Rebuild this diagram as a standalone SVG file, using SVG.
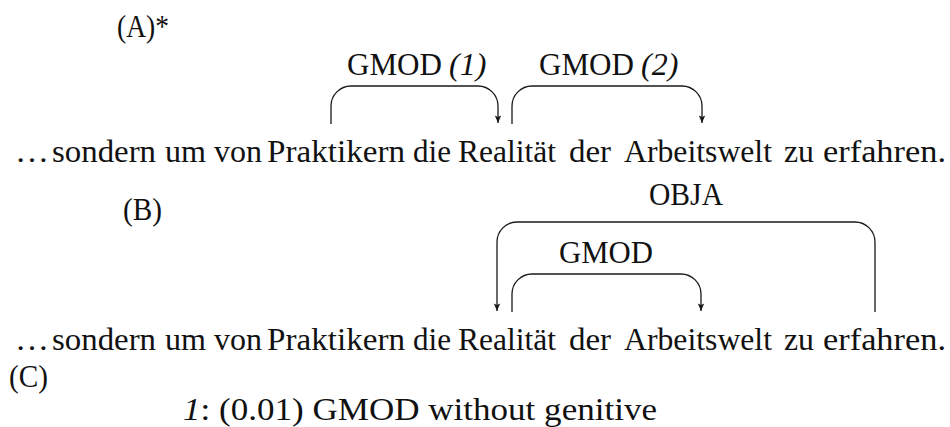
<svg xmlns="http://www.w3.org/2000/svg" width="950" height="427" viewBox="0 0 950 427">
<style>
text{font-family:"Liberation Serif","Times New Roman",serif;font-size:32px;fill:#111}
.it{font-style:italic}
.edge{fill:none;stroke:#1a1a1a;stroke-width:1.3}
</style>
<defs>
<marker id="ah" markerUnits="userSpaceOnUse" markerWidth="10" markerHeight="10" viewBox="-8 -4 10 8" refX="0" refY="0" orient="auto">
<path d="M-7.5,-3.2 L0,0 L-7.5,3.2 L-6,0 z" fill="#1a1a1a"/>
</marker>
</defs>
<rect width="950" height="427" fill="#fff"/>

<g id="tag-A"><text x="117" y="37" textLength="52" lengthAdjust="spacingAndGlyphs">(A)*</text></g>
<g id="tag-B"><text x="123" y="220" textLength="39" lengthAdjust="spacingAndGlyphs">(B)</text></g>
<g id="tag-C"><text x="9" y="387" textLength="39" lengthAdjust="spacingAndGlyphs">(C)</text></g>

<g id="sentence-A">
<g id="a-w0"><text x="15" y="162" textLength="34" lengthAdjust="spacingAndGlyphs">…</text></g>
<g id="a-w1"><text x="52" y="162" textLength="104" lengthAdjust="spacingAndGlyphs">sondern</text></g>
<g id="a-w2"><text x="165" y="162" textLength="41" lengthAdjust="spacingAndGlyphs">um</text></g>
<g id="a-w3"><text x="214" y="162" textLength="48" lengthAdjust="spacingAndGlyphs">von</text></g>
<g id="a-w4"><text x="267" y="162" textLength="138" lengthAdjust="spacingAndGlyphs">Praktikern</text></g>
<g id="a-w5"><text x="413" y="162" textLength="38" lengthAdjust="spacingAndGlyphs">die</text></g>
<g id="a-w6"><text x="458" y="162" textLength="98" lengthAdjust="spacingAndGlyphs">Realität</text></g>
<g id="a-w7"><text x="569" y="162" textLength="42" lengthAdjust="spacingAndGlyphs">der</text></g>
<g id="a-w8"><text x="624" y="162" textLength="148" lengthAdjust="spacingAndGlyphs">Arbeitswelt</text></g>
<g id="a-w9"><text x="784" y="162" textLength="30" lengthAdjust="spacingAndGlyphs">zu</text></g>
<g id="a-w10"><text x="823" y="162" textLength="123" lengthAdjust="spacingAndGlyphs">erfahren.</text></g>
</g>

<g id="sentence-B">
<g id="b-w0"><text x="15" y="350" textLength="34" lengthAdjust="spacingAndGlyphs">…</text></g>
<g id="b-w1"><text x="52" y="350" textLength="104" lengthAdjust="spacingAndGlyphs">sondern</text></g>
<g id="b-w2"><text x="165" y="350" textLength="41" lengthAdjust="spacingAndGlyphs">um</text></g>
<g id="b-w3"><text x="214" y="350" textLength="48" lengthAdjust="spacingAndGlyphs">von</text></g>
<g id="b-w4"><text x="267" y="350" textLength="138" lengthAdjust="spacingAndGlyphs">Praktikern</text></g>
<g id="b-w5"><text x="413" y="350" textLength="38" lengthAdjust="spacingAndGlyphs">die</text></g>
<g id="b-w6"><text x="458" y="350" textLength="98" lengthAdjust="spacingAndGlyphs">Realität</text></g>
<g id="b-w7"><text x="569" y="350" textLength="42" lengthAdjust="spacingAndGlyphs">der</text></g>
<g id="b-w8"><text x="624" y="350" textLength="148" lengthAdjust="spacingAndGlyphs">Arbeitswelt</text></g>
<g id="b-w9"><text x="784" y="350" textLength="30" lengthAdjust="spacingAndGlyphs">zu</text></g>
<g id="b-w10"><text x="823" y="350" textLength="123" lengthAdjust="spacingAndGlyphs">erfahren.</text></g>
</g>

<g id="connectors">
<path id="e-gmod1" class="edge" d="M331,124 V106 A20,20 0 0 1 351,86 H478 A20,20 0 0 1 498,106 V123" marker-end="url(#ah)"/>
<path id="e-gmod2" class="edge" d="M512,124 V106 A20,20 0 0 1 532,86 H682 A20,20 0 0 1 702,106 V123" marker-end="url(#ah)"/>
<path id="e-obja" class="edge" d="M875,312 V242 A20,20 0 0 0 855,222 H517 A20,20 0 0 0 497,242 V311" marker-end="url(#ah)"/>
<path id="e-gmodB" class="edge" d="M512,312 V294 A20,20 0 0 1 532,274 H681 A20,20 0 0 1 701,294 V311" marker-end="url(#ah)"/>
</g>

<g id="edge-labels">
<g id="l-gmod1"><text x="347" y="75" textLength="95" lengthAdjust="spacingAndGlyphs">GMOD</text><text class="it" x="449" y="75">(1)</text></g>
<g id="l-gmod2"><text x="539" y="75" textLength="95" lengthAdjust="spacingAndGlyphs">GMOD</text><text class="it" x="641" y="75">(2)</text></g>
<g id="l-obja"><text x="649" y="205" textLength="74" lengthAdjust="spacingAndGlyphs">OBJA</text></g>
<g id="l-gmodB"><text x="559" y="263" textLength="94" lengthAdjust="spacingAndGlyphs">GMOD</text></g>
</g>

<g id="legend">
<text x="183" y="420" textLength="474" lengthAdjust="spacingAndGlyphs"><tspan class="it">1</tspan>: (0.01) GMOD without genitive</text>
</g>
</svg>
